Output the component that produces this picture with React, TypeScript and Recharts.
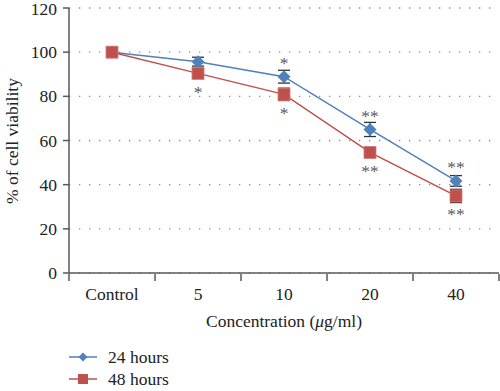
import React from 'react';
import {
    LineChart, Line, XAxis, YAxis, CartesianGrid, ErrorBar, LabelList, Customized
} from 'recharts';

const categories = ['Control', '5', '10', '20', '40'];
const viability24 = [100, 95.7, 88.9, 65.0, 41.7];
const viability48 = [100, 90.4, 80.9, 54.6, 34.9];
const error24 = [0, 2, 2.9, 3.2, 2.4];
const error48 = [0, 0.8, 2.8, 2, 3];
const sig24 = ['', '', '*', '**', '**'];
const sig48 = ['', '*', '*', '**', '**'];
const yTicks = [0, 20, 40, 60, 80, 100, 120];

const BLUE = '#4F81BD';
const RED = '#C0504D';
const AXIS = '#595959';
const FONT = "'Liberation Serif', 'DejaVu Serif', serif";
const txt = { fontFamily: FONT, fontSize: 17.5 };

const data = categories.map((c, i) => ({
    name: c,
    h24: viability24[i],
    h48: viability48[i],
    e24: error24[i],
    e48: error48[i],
    s24: sig24[i],
    s48: sig48[i],
}));

const Diamond = ({ cx, cy, index }: any) => (
    <path key={`d-${index}`} d={`M${cx},${cy - 6.5} L${cx + 6.5},${cy} L${cx},${cy + 6.5} L${cx - 6.5},${cy} Z`} fill={BLUE} />
);

const Square = ({ cx, cy, index }: any) => (
    <rect key={`s-${index}`} x={cx - 6} y={cy - 6} width={12} height={12} fill={RED} stroke="#D27A78" strokeWidth={0.8} />
);

const sigLabel = (above: boolean) => ({ x, y, value, index }: any) => {
    if (!value) return null;
    return (
        <text key={`l-${index}`} x={x} y={above ? y - 7.8 : y + 24.2} textAnchor="middle" style={txt} fill="#5a5a5a">
            {value}
        </text>
    );
};

const XTick = ({ x, y, payload, index }: any) => {
    const half = payload && payload.offset ? payload.offset : 43;
    return (
        <g>
            <line x1={x - half} y1={y - 7} x2={x - half} y2={y} stroke={AXIS} strokeWidth={1.5} />
            {index === categories.length - 1 && (
                <line x1={x + half} y1={y - 7} x2={x + half} y2={y} stroke={AXIS} strokeWidth={1.5} />
            )}
            <text x={x} y={y + 18.5} textAnchor="middle" style={txt} fill="#222">
                {payload.value}
            </text>
        </g>
    );
};

const YTick = ({ x, y, payload }: any) => (
    <text x={x} y={y + 6} textAnchor="end" style={txt} fill="#222">
        {payload.value}
    </text>
);

const Extras = () => (
    <g fill="#222">
        <text x={284} y={327} textAnchor="middle" style={txt}>
            Concentration (<tspan fontStyle="italic">μ</tspan>g/ml)
        </text>
        <text transform="translate(18,141) rotate(-90)" textAnchor="middle" style={txt}>
            % of cell viability
        </text>
        {/* Legend */}
        <line x1={69} y1={357} x2={97} y2={357} stroke={BLUE} strokeWidth={1.5} />
        <path d="M83,352.5 L87.5,357 L83,361.5 L78.5,357 Z" fill={BLUE} />
        <text x={108} y={363} style={txt}>24 hours</text>
        <line x1={69} y1={379} x2={97} y2={379} stroke={RED} strokeWidth={1.5} />
        <rect x={78} y={374} width={10} height={10} fill={RED} />
        <text x={108} y={384.5} style={txt}>48 hours</text>
    </g>
);

export default function App() {
    return (
        <div style={{ position: 'absolute', left: 0, top: 0, background: '#fff', fontFamily: FONT }}>
            <LineChart width={500} height={391} data={data} margin={{ top: 8, right: 1, left: 0, bottom: 0 }}>
                <CartesianGrid horizontal vertical={false} stroke="#8a8a8a" strokeWidth={1.3} strokeDasharray="1.3 8.7" />
                <XAxis
                    dataKey="name"
                    scale="band"
                    height={118}
                    axisLine={{ stroke: AXIS, strokeWidth: 1.5 }}
                    tickLine={false}
                    tick={<XTick />}
                    interval={0}
                />
                <YAxis
                    width={69}
                    domain={[0, 120]}
                    ticks={yTicks}
                    axisLine={{ stroke: AXIS, strokeWidth: 1.5 }}
                    tickLine={{ stroke: AXIS, strokeWidth: 1.5 }}
                    tickSize={6}
                    tickMargin={6}
                    tick={<YTick />}
                />
                <Line dataKey="h24" stroke={BLUE} strokeWidth={1.5} dot={Diamond} activeDot={false} isAnimationActive={false}>
                    <ErrorBar dataKey="e24" width={6} stroke="#333" strokeWidth={1.3} direction="y" />
                    <LabelList dataKey="s24" content={sigLabel(true)} />
                </Line>
                <Line dataKey="h48" stroke={RED} strokeWidth={1.5} dot={Square} activeDot={false} isAnimationActive={false}>
                    <ErrorBar dataKey="e48" width={6} stroke="#333" strokeWidth={1.3} direction="y" />
                    <LabelList dataKey="s48" content={sigLabel(false)} />
                </Line>
                <Customized component={Extras} />
            </LineChart>
        </div>
    );
}
